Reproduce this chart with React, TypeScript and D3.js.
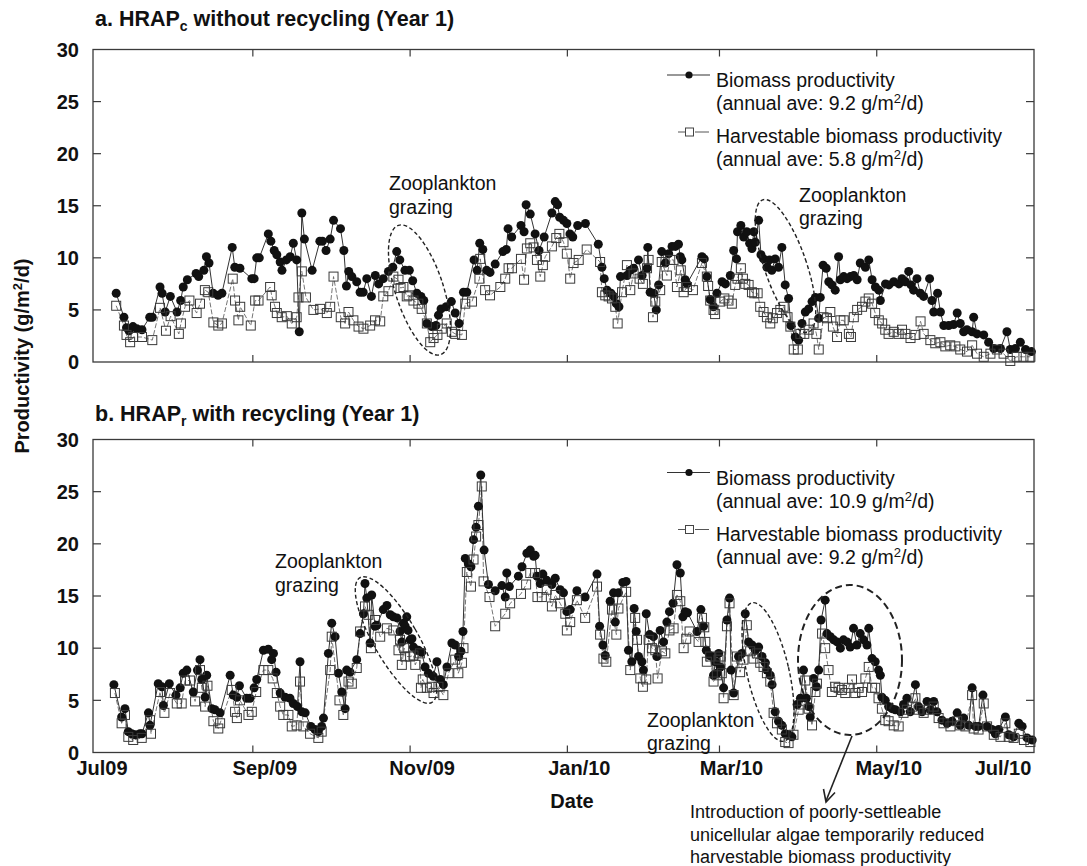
import React from 'react';
import * as d3 from 'd3';

const FONT = "'Liberation Sans', Arial, Helvetica, sans-serif";
const START = new Date(Date.UTC(2009, 6, 1));
const END = new Date(Date.UTC(2010, 6, 1));
const xTickDates = [
  new Date(Date.UTC(2009, 6, 1)), new Date(Date.UTC(2009, 8, 1)), new Date(Date.UTC(2009, 10, 1)),
  new Date(Date.UTC(2010, 0, 1)), new Date(Date.UTC(2010, 2, 1)), new Date(Date.UTC(2010, 4, 1)),
  new Date(Date.UTC(2010, 6, 1)),
];
const xTickLabels = ['Jul09', 'Sep/09', 'Nov/09', 'Jan/10', 'Mar/10', 'May/10', 'Jul/10'];
const yTicks = [0, 5, 10, 15, 20, 25, 30];

type Pt = [number, number]; // [days since 1 Jul 2009, g/m2/d]

const aBiomass: Pt[] = [[9,6.6],[12,4.3],[13,3.3],[14,3.0],[15.5,3.4],[17,3.2],[19,3.1],[22,4.3],[23,4.3],[26,7.2],[26.8,6.6],[28,4.8],[30,6.3],[32.6,4.8],[34,5.9],[35,7.2],[36.6,7.9],[40,8.5],[41,8.2],[43,8.8],[44,10.1],[45,9.5],[46.6,6.6],[48.5,6.4],[50,6.6],[54,11.0],[55,9.1],[57,9.0],[61.6,8.0],[62.5,8.0],[63.5,10.0],[64.5,10.0],[68,12.3],[69,11.6],[70.3,10.7],[71.3,10.3],[72.6,9.6],[73.3,8.8],[75,9.8],[76.5,10.1],[77.7,11.4],[79,9.8],[80,2.9],[81,14.3],[82,11.8],[85,8.8],[88,11.6],[89,11.6],[90.4,10.7],[92,11.8],[93.3,13.6],[96,12.8],[97.3,10.7],[98.3,7.3],[99.2,8.7],[100.4,8.2],[102.3,7.7],[103.6,6.7],[104.8,6.7],[106.2,8.0],[108,6.3],[109.5,8.3],[110.8,7.5],[112.6,8.0],[114.6,8.7],[116.3,9.1],[117.8,10.6],[119,9.8],[121,8.8],[122.7,8.8],[124,7.8],[125.6,6.6],[127.2,6.3],[128.3,5.9],[129.5,3.7],[131.4,3.4],[133,3.5],[134,4.5],[135,5.1],[137,5.3],[139,5.8],[140.5,4.7],[142,3.7],[143.7,6.7],[145,6.7],[147.8,9.8],[149,8.8],[150,11.4],[151.2,10.8],[152.7,8.8],[154,8.6],[156,9.4],[159,10.6],[160.3,10.8],[161,12.8],[162.4,12.0],[166,13.1],[167.2,12.5],[168,15.1],[169.6,14.2],[171.5,12.3],[173,10.7],[175,12.0],[178,14.3],[179.3,15.4],[180.2,15.1],[181,13.9],[182.5,13.6],[183.8,13.3],[185,12.3],[186.1,12.0],[188,13.1],[191,13.3],[196,11.3],[197.4,9.1],[198.3,8.0],[199.4,6.9],[200.9,6.6],[202,6.3],[203,5.6],[204,5.3],[204.6,8.2],[207.1,8.3],[208.4,8.8],[209.7,9.0],[211.6,9.8],[213,8.3],[214.9,9.0],[215.2,11.0],[216.1,6.7],[217.4,6.6],[218.5,5.0],[219.4,7.4],[220.6,10.6],[222,9.5],[223.3,10.4],[224.6,11.1],[225.9,11.1],[227.1,11.3],[227.8,10.1],[228.4,9.8],[229.7,7.9],[230.4,7.5],[236.2,10.1],[237.1,9.9],[238.1,8.2],[239.4,6.0],[240.7,5.3],[242,6.6],[244,7.7],[245.3,7.5],[247.2,8.3],[248.5,10.7],[249.6,9.9],[250,12.5],[251.3,13.1],[252.4,12.0],[253.6,12.5],[254.7,11.4],[255.6,10.9],[256.3,12.5],[256.9,11.5],[258.2,13.6],[259.1,10.3],[260.1,9.9],[261.4,9.1],[262.4,9.8],[263.3,8.8],[264.6,9.9],[265.9,9.1],[267.2,11.0],[268.5,7.4],[269.8,6.1],[270.7,3.5],[272.4,2.4],[273.7,2.1],[275,3.7],[276.3,4.8],[277.6,5.1],[278.9,5.8],[280.2,6.2],[281.5,4.2],[282.1,6.2],[283.2,9.3],[284.4,9.0],[285.4,7.7],[286.6,7.4],[287.9,6.9],[289.2,10.1],[289.9,7.9],[291.2,8.2],[292.5,8.0],[293.8,8.2],[295.1,8.3],[296.4,7.9],[297.6,9.5],[299.6,9.1],[300.9,9.8],[302.2,7.9],[303.5,7.2],[304.8,6.9],[305.4,5.9],[307.4,7.5],[308.7,7.4],[310.6,7.7],[312.6,7.5],[313.8,8.0],[315.1,7.7],[316.4,8.7],[317.3,7.4],[318.3,6.9],[319.6,8.0],[320.9,6.6],[322.2,6.3],[324.5,8.0],[325.4,5.9],[326.1,4.8],[327.6,6.6],[328.7,4.8],[330,3.5],[331.9,3.5],[333.8,3.6],[335.2,4.7],[336.4,3.7],[337.7,2.9],[339,3.1],[341,2.9],[341.6,4.3],[342.9,2.7],[345.5,2.6],[347.4,1.9],[349.4,1.3],[352,1.3],[354.5,2.9],[355.8,1.2],[357.8,1.3],[359.7,1.9],[361.7,1.2],[364,1.0]];

const aHarvest: Pt[] = [[9,5.4],[12,3.5],[13,2.6],[14.4,1.9],[15.6,2.4],[19,2.4],[23,2.1],[26,5.2],[28.3,3.0],[30.1,4.4],[33.3,2.7],[34.1,3.7],[35.7,5.3],[37.4,5.9],[40.2,4.7],[41.5,5.6],[43.4,6.9],[44.7,6.7],[46.7,3.8],[48.6,3.5],[50,3.7],[54.2,8.0],[55.1,5.9],[56.4,4.0],[57.1,5.3],[61.2,3.5],[62.9,5.9],[64.2,5.9],[68.7,7.2],[69.3,6.4],[70.6,5.3],[71.3,4.7],[73.2,4.3],[75.2,4.4],[77.1,3.7],[79,4.3],[79.7,6.2],[81,8.7],[82.6,6.2],[85.5,5.0],[88.1,5.1],[90.7,4.7],[92,5.3],[93.3,8.2],[96.1,4.3],[97.8,3.7],[99.1,4.8],[101,4.0],[103,3.4],[104.9,3.2],[107.5,3.5],[109.4,4.0],[111.4,3.9],[112.6,6.3],[114.6,6.8],[116.5,8.2],[118.5,7.9],[119.3,7.1],[120.4,7.2],[121.7,6.3],[122.4,6.4],[124.3,5.9],[126.2,5.6],[127.5,5.1],[129.5,3.7],[130.8,1.9],[132.1,2.3],[133.6,2.6],[135.3,3.2],[137.2,3.7],[139.2,2.9],[140.5,2.7],[143.1,2.6],[144.4,5.6],[147,5.8],[149.9,8.0],[150.2,9.9],[152.1,6.9],[154,6.4],[158,7.2],[159.9,8.0],[161.2,9.0],[162.5,9.0],[166,9.9],[167.2,7.9],[168.3,10.9],[169.6,11.4],[170.9,11.0],[172.2,9.8],[173.5,8.2],[174.5,9.3],[175.4,10.1],[178,11.1],[179.7,11.9],[180.9,12.3],[182.5,11.5],[183.8,10.4],[185.1,8.0],[186.4,9.5],[188.4,9.8],[191.5,10.8],[196.7,9.6],[197.4,6.7],[198.7,6.4],[200,6.3],[201.3,6.1],[202.6,5.3],[203.5,3.7],[205.2,6.7],[207.1,9.3],[208.4,6.9],[209.7,8.5],[212,8.0],[213.3,7.5],[214.9,9.0],[215.5,9.8],[217.2,4.3],[218.1,5.8],[220,6.9],[220.6,9.6],[222.6,8.3],[223.9,9.8],[225.2,9.8],[226.5,7.2],[228,8.8],[229.1,6.7],[230.4,7.2],[232.7,6.9],[236.2,9.5],[238.1,8.2],[238.6,7.3],[239.4,5.9],[240.7,5.0],[241.3,4.6],[243.3,5.8],[244.9,6.1],[246.5,5.9],[247.8,5.6],[249.1,7.4],[250,8.0],[251.3,9.0],[252.1,8.0],[253,7.5],[254.3,7.4],[255.6,6.7],[256.5,6.6],[257.8,6.6],[258.8,5.3],[260.1,4.8],[261.4,4.3],[262.7,3.7],[263.7,4.2],[265.3,4.7],[266.6,5.0],[267.9,5.3],[269.4,4.3],[270.5,3.4],[271.8,1.2],[273.4,1.2],[274.4,2.7],[275.9,2.7],[277.6,3.1],[279.5,3.7],[280.6,2.7],[281.5,1.2],[283.4,4.3],[284.7,4.2],[286,4.8],[287,3.4],[288.6,2.4],[289.9,4.0],[291.2,4.0],[293.2,2.7],[294,2.4],[295.1,4.3],[296.4,5.0],[298.3,5.3],[299.6,5.8],[300.9,6.1],[302.2,5.6],[303.4,4.7],[304.8,4.0],[306.1,3.7],[307.3,3.1],[308.6,2.7],[310.6,2.9],[312.5,2.7],[313.8,3.1],[315.1,2.7],[317.1,2.3],[319,2.6],[321,3.9],[322.2,2.7],[324.8,2.1],[326.7,1.8],[328.7,1.9],[330.6,1.5],[332.5,1.6],[334.5,1.5],[336.4,1.2],[339,1.0],[341,1.6],[342.9,0.8],[345.5,0.5],[348.1,0.8],[350.7,1.2],[353.2,0.8],[355.8,0.1],[358.3,0.5],[360.9,0.5],[363.6,0.5]];

const bBiomass: Pt[] = [[8.1,6.5],[11.1,3.4],[12.4,4.2],[13.7,2.0],[15,1.8],[16.3,1.7],[18.2,1.8],[19,1.8],[21.5,3.8],[22.1,2.6],[25.3,6.6],[26.7,6.3],[27.3,4.5],[29.6,6.6],[32.2,5.5],[33.8,6.2],[35,7.6],[36.4,7.9],[38.9,5.8],[40.5,7.9],[41.5,8.9],[42.2,7.0],[43.5,5.3],[44.1,7.4],[46.1,4.2],[47.3,4.1],[49.3,3.8],[53.2,7.4],[54.4,5.5],[55.8,5.3],[56.8,6.4],[59.6,5.2],[60.9,5.2],[62.5,6.2],[63.5,7.0],[66.1,9.8],[68,9.9],[69.3,8.9],[70,9.5],[71,7.7],[72.6,5.7],[74.5,5.3],[76.4,5.2],[77.7,4.7],[79.3,4.4],[80.3,8.7],[81,3.9],[82.3,3.8],[84.5,2.5],[86.1,2.2],[87.4,2.0],[88.7,2.5],[89.4,3.3],[91.3,9.5],[92.6,12.4],[93.9,11.1],[95.2,7.6],[96.5,5.8],[97.8,4.2],[98.4,7.9],[99.7,7.7],[102.3,8.9],[103.6,11.4],[104.9,13.3],[105.5,16.2],[106.2,14.8],[107.5,10.5],[108.1,15.1],[109.4,12.1],[110.1,12.2],[112.6,13.7],[114,14.1],[115.3,13.2],[116.5,13.0],[117.9,12.9],[119.1,11.6],[119.8,10.6],[120.4,12.4],[121.1,12.1],[121.7,13.0],[122.2,11.7],[123,10.8],[123.7,10.9],[124.3,10.1],[125.6,9.8],[126.2,9.8],[127.5,9.6],[128.8,8.2],[130.1,7.6],[132,7.3],[133.4,8.7],[134.7,7.0],[135.9,6.5],[137.3,8.2],[139.2,10.5],[140.5,10.3],[141.8,9.2],[142.7,9.7],[143.5,11.6],[144.4,18.6],[145.6,18.1],[146.6,17.8],[147.6,20.4],[148.6,21.6],[149.5,23.6],[150.4,26.6],[151.7,19.4],[153.4,16.1],[156,15.5],[158.6,16.0],[159.9,14.9],[160.5,17.2],[161.5,15.9],[165,16.9],[166.4,17.8],[168.3,19.1],[169.6,19.4],[170.9,18.8],[171.5,18.9],[172.2,16.9],[173.5,16.2],[174.5,17.1],[176,16.5],[178,16.1],[179.3,16.7],[181.2,15.6],[182.5,15.3],[183.8,13.5],[185.1,13.7],[187.7,15.5],[190.9,14.9],[195.5,17.1],[196.5,12.1],[197.8,10.3],[198.7,9.3],[200.6,14.5],[201.9,15.3],[202.6,12.5],[203.8,15.3],[205.5,16.3],[206.8,16.4],[207.7,9.8],[209,8.7],[209.9,13.8],[210.7,11.6],[211.6,9.2],[212.9,8.7],[213.5,7.9],[214.6,13.3],[215.9,11.3],[217.4,11.1],[218.7,9.2],[220,11.7],[221.3,10.6],[222.6,12.5],[223.6,13.5],[225,14.3],[226.5,18.0],[227.8,17.2],[228.8,13.0],[229.7,13.5],[230.6,13.4],[234.3,11.6],[235.8,13.7],[236.8,12.1],[237.9,9.8],[239.2,9.3],[240.1,9.2],[240.7,7.4],[241.4,8.7],[242.1,7.6],[242.7,9.5],[243.3,8.2],[244.6,6.2],[245.9,12.7],[246.9,14.8],[247.5,7.9],[248.5,5.7],[250.4,9.2],[251.7,9.5],[253,13.3],[254.3,10.6],[255.6,10.3],[256.9,9.8],[258.2,10.1],[259.5,9.2],[260.8,8.6],[261.4,7.9],[262.7,7.4],[263.4,6.5],[264.6,3.9],[265.9,3.0],[267.2,2.6],[268.5,1.8],[269.8,1.7],[271.1,1.5],[273.1,4.6],[274.4,5.2],[275.6,7.9],[276.7,5.2],[277.6,4.4],[278.2,3.4],[279.5,7.1],[280.6,6.3],[281.5,7.9],[282.4,12.7],[284,14.6],[284.7,11.4],[286,11.1],[287.3,10.8],[288.6,10.6],[289.9,10.0],[291.1,10.8],[292.5,10.6],[293.7,10.1],[295,11.9],[296.3,10.3],[297.6,11.4],[298.9,10.8],[300.2,10.3],[300.9,11.9],[302.2,9.0],[303.4,8.7],[304.7,7.9],[305.4,7.4],[306,5.3],[307.3,5.0],[308.6,4.4],[309.9,4.2],[311.2,4.1],[313.2,3.9],[314.4,4.6],[315.7,5.2],[317,3.9],[319,6.5],[320.2,4.4],[321.6,3.9],[323.5,4.9],[324.8,4.1],[326.1,4.9],[327.4,3.9],[329.3,3.1],[331.3,2.8],[333.2,3.0],[335.2,3.8],[336.4,2.6],[337.7,3.3],[339.7,2.6],[341,6.2],[342.3,2.5],[343.5,2.5],[345.2,5.5],[346.8,2.5],[348.7,2.2],[350,1.8],[351.3,2.2],[353.9,3.4],[355.2,1.7],[357.1,1.5],[359.1,2.8],[360.4,2.5],[362.3,1.4],[364.3,1.2]];

const bHarvest: Pt[] = [[8.5,5.7],[11.1,2.8],[12.4,3.6],[13.7,1.5],[15.6,1.2],[18.9,1.4],[22.1,3.1],[22.5,1.8],[26,5.8],[27.7,3.8],[29.9,5.7],[32.5,4.7],[34.4,4.7],[35.7,6.9],[37.6,6.9],[39.6,4.9],[41.5,7.9],[42.2,6.2],[43.5,4.4],[44.4,6.4],[46.7,3.0],[48.6,2.3],[49.3,2.8],[53.8,6.0],[55.1,3.9],[55.8,3.3],[57,5.0],[60.3,3.6],[61.6,3.9],[63.3,5.8],[66.1,7.9],[68,7.9],[69.7,7.1],[71.3,5.7],[72.6,4.4],[73.8,3.6],[75.8,3.6],[77.1,2.5],[79,2.6],[80.3,6.8],[81.6,2.5],[84.2,1.8],[87.4,1.4],[88.7,2.0],[92,7.9],[92.6,11.1],[95.6,5.0],[97.1,3.6],[99.1,6.8],[100.4,6.6],[102.3,8.1],[103.6,11.6],[105.5,14.0],[106.8,13.2],[107.8,10.0],[109.4,12.7],[111.4,11.1],[114,11.9],[116.5,11.7],[118.5,9.8],[119.1,10.8],[119.8,8.4],[120.7,10.0],[121.1,9.2],[123,9.2],[124.3,9.3],[125,8.4],[126.8,9.5],[127.2,6.2],[127.9,7.0],[129.5,6.2],[131.4,6.3],[132.1,5.7],[134,6.3],[135.9,5.5],[137.9,7.6],[140.5,8.9],[141.7,7.6],[143.1,8.6],[143.7,10.0],[145,17.3],[146.6,15.9],[147.6,18.5],[148.6,20.7],[149.5,21.8],[150.8,25.5],[151.5,16.4],[153.8,14.9],[156,12.1],[159.9,13.3],[161.8,14.3],[166,15.2],[168,16.1],[169.6,17.2],[171.5,17.2],[172.4,14.9],[174.1,14.9],[176,15.6],[178,14.0],[179.3,15.1],[181.2,14.3],[183.2,13.3],[183.8,11.7],[185.1,12.5],[187.7,14.6],[190.9,12.9],[195.5,15.9],[196.7,11.3],[198,9.0],[199.1,8.7],[201.3,13.7],[203,11.3],[203.8,13.8],[206.8,15.4],[208.4,7.9],[210.3,12.9],[211,10.8],[212.3,7.1],[213.3,6.3],[214.6,7.0],[215.5,10.8],[216.8,10.0],[218.1,9.8],[219,7.1],[220.7,9.7],[222,9.5],[223.6,11.7],[225.2,11.9],[226.5,15.1],[227.8,14.5],[229.1,10.0],[230.1,10.9],[231.4,11.6],[234.9,10.6],[236.2,12.9],[237.1,12.0],[237.5,10.6],[238.1,8.7],[239.4,9.2],[240.7,6.8],[242,7.4],[242.6,8.9],[243.3,9.2],[243.9,7.6],[244.6,5.2],[245.9,12.1],[246.9,14.3],[248.5,5.5],[249.8,9.2],[251,7.7],[252.3,8.9],[253.6,12.2],[254.9,9.7],[256.2,9.0],[257.5,9.5],[258.8,8.6],[260.1,8.2],[261.4,7.6],[262.7,6.8],[264,3.8],[265.3,2.8],[267.2,2.2],[268.5,1.0],[269.8,0.9],[271.7,1.7],[273.7,4.1],[275,4.6],[276.3,6.9],[277.6,4.2],[278.9,2.6],[280.2,5.8],[280.8,6.6],[282.8,11.4],[284,10.0],[285.3,7.9],[286.6,5.8],[287.9,6.3],[289.2,6.2],[290.5,6.0],[291.8,5.7],[293.1,6.2],[294.4,7.0],[295.7,5.7],[297,6.2],[298.3,5.8],[299.6,7.1],[300.9,8.2],[302.2,6.2],[303.4,6.2],[304.7,5.2],[306,4.2],[307.3,3.1],[308.6,3.0],[310.6,2.6],[312.5,2.5],[314.4,3.8],[315.7,4.1],[317.7,4.4],[319,5.2],[320.2,4.1],[322.2,3.8],[324.1,4.1],[326.1,4.4],[328,3.3],[329.9,2.8],[332.6,2.5],[335.2,3.0],[336.4,2.6],[338.4,2.5],[341,5.5],[341.6,2.3],[343.5,2.2],[345.5,4.7],[346.8,2.5],[349.4,1.7],[352,1.5],[353.9,2.8],[355.2,1.5],[357.1,1.4],[359.1,1.8],[361.1,1.2],[363.6,1.0]];

const aAverages = ['9.2', '5.8'];
const bAverages = ['10.9', '9.2'];

const toDate = (d: number) => new Date(START.getTime() + d * 86400000);
const LEFT = 93;
const RIGHT = 1034;
const AXIS = '#3a3a3a';
const INK = '#111';

function Unit({ ave }: { ave: string }) {
  return (
    <>
      {`(annual  ave: ${ave} g/m`}
      <tspan fontSize={13} dy={-7}>2</tspan>
      <tspan dy={7}>/d)</tspan>
    </>
  );
}

function Legend({ y0, avg }: { y0: number; avg: string[] }) {
  const tx = 716;
  return (
    <g fontFamily={FONT} fontSize={19.5} fill={INK}>
      <line x1={667} x2={710} y1={y0} y2={y0} stroke="#333" strokeWidth={1.1} />
      <circle cx={689} cy={y0} r={3.6} fill={INK} />
      <text x={tx} y={y0 + 12}>Biomass productivity</text>
      <text x={tx} y={y0 + 35}><Unit ave={avg[0]} /></text>
      <line x1={678} x2={685} y1={y0 + 57} y2={y0 + 57} stroke="#555" strokeWidth={1} />
      <line x1={695} x2={709} y1={y0 + 57} y2={y0 + 57} stroke="#555" strokeWidth={1} />
      <rect x={685.5} y={y0 + 53} width={8} height={8} fill="none" stroke="#444" strokeWidth={1} />
      <text x={tx} y={y0 + 68}>Harvestable biomass productivity</text>
      <text x={tx} y={y0 + 91}><Unit ave={avg[1]} /></text>
    </g>
  );
}

function Panel({ top, bottom, bio, harv, showXLabels }: { top: number; bottom: number; bio: Pt[]; harv: Pt[]; showXLabels: boolean }) {
  const x = d3.scaleUtc().domain([START, END]).range([LEFT, RIGHT]);
  const y = d3.scaleLinear().domain([0, 30]).range([bottom, top]);
  const line = d3.line<Pt>().x(d => x(toDate(d[0]))).y(d => y(d[1]));
  const inner = xTickDates.slice(1, -1);
  return (
    <g>
      <path d={line(harv) || ''} fill="none" stroke="#666" strokeWidth={0.9} strokeDasharray="5,2" />
      <path d={line(bio) || ''} fill="none" stroke="#333" strokeWidth={1} />
      {bio.map((d, i) => (
        <circle key={'b' + i} cx={x(toDate(d[0]))} cy={y(d[1])} r={4.5} fill={INK} />
      ))}
      {harv.map((d, i) => (
        <rect key={'h' + i} x={x(toDate(d[0])) - 4.5} y={y(d[1]) - 4.5} width={9} height={9} fill="none" stroke="#3a3a3a" strokeWidth={1} />
      ))}
      <rect x={LEFT} y={top} width={RIGHT - LEFT} height={bottom - top} fill="none" stroke={AXIS} strokeWidth={1.3} />
      {yTicks.slice(1, -1).map(v => (
        <g key={'yt' + v}>
          <line x1={LEFT} x2={LEFT + 8} y1={y(v)} y2={y(v)} stroke={AXIS} strokeWidth={1.2} />
          <line x1={RIGHT} x2={RIGHT - 8} y1={y(v)} y2={y(v)} stroke={AXIS} strokeWidth={1.2} />
        </g>
      ))}
      {inner.map((d, i) => (
        <g key={'xt' + i}>
          <line x1={x(d)} x2={x(d)} y1={top} y2={top + 7} stroke={AXIS} strokeWidth={1.2} />
          <line x1={x(d)} x2={x(d)} y1={bottom} y2={bottom - 7} stroke={AXIS} strokeWidth={1.2} />
        </g>
      ))}
      <g fontFamily={FONT} fontSize={20} fontWeight="bold" fill={INK}>
        {yTicks.map(v => (
          <text key={'yl' + v} x={79} y={y(v)} dy="0.36em" textAnchor="end">{v}</text>
        ))}
        {showXLabels && xTickDates.map((d, i) => (
          <text key={'xl' + i} x={i === xTickDates.length - 1 ? x(d) - 31 : x(d) + (i === 0 ? 9 : 12)} y={bottom + 22.5} textAnchor="middle">{xTickLabels[i]}</text>
        ))}
      </g>
    </g>
  );
}

function Note({ x, y, lines, size = 19.5, gap = 23.5 }: { x: number; y: number; lines: string[]; size?: number; gap?: number }) {
  return (
    <text x={x} y={y} fontFamily={FONT} fontSize={size} fill={INK}>
      {lines.map((l, i) => (
        <tspan key={i} x={x} dy={i === 0 ? 0 : gap}>{l}</tspan>
      ))}
    </text>
  );
}

export default function App() {
  const dash = { fill: 'none', stroke: '#222', strokeWidth: 1.4, strokeDasharray: '4,2.5' };
  return (
    <svg width={1087} height={866} style={{ position: 'absolute', left: 0, top: 0, background: '#fff' }}>
      <rect width={1087} height={866} fill="#fff" />
      <g fontFamily={FONT} fontWeight="bold" fontSize={21.5} fill={INK}>
        <text x={95} y={26}>a. HRAP<tspan fontSize={14} dy={5}>c</tspan><tspan dy={-5}>{'  without recycling (Year 1)'}</tspan></text>
        <text x={95} y={421}>b. HRAP<tspan fontSize={14} dy={5}>r</tspan><tspan dy={-5}>{'  with recycling (Year 1)'}</tspan></text>
      </g>
      <Panel top={49.5} bottom={362} bio={aBiomass} harv={aHarvest} showXLabels={false} />
      <Panel top={439.5} bottom={752.5} bio={bBiomass} harv={bHarvest} showXLabels={true} />
      <Legend y0={75} avg={aAverages} />
      <Legend y0={472.5} avg={bAverages} />

      <text transform="translate(29,356) rotate(-90)" textAnchor="middle" fontFamily={FONT} fontWeight="bold" fontSize={20} fill={INK}>
        Productivity (g/m<tspan fontSize={13} dy={-7}>2</tspan><tspan dy={7}>/d)</tspan>
      </text>
      <text x={572} y={808} textAnchor="middle" fontFamily={FONT} fontWeight="bold" fontSize={20} fill={INK}>Date</text>

      <Note x={389} y={190} lines={['Zooplankton', 'grazing']} />
      <Note x={799} y={201.5} lines={['Zooplankton', 'grazing']} />
      <Note x={275} y={568} lines={['Zooplankton', 'grazing']} />
      <Note x={647} y={726.5} lines={['Zooplankton', 'grazing']} />
      <Note x={690} y={818} lines={['Introduction of poorly-settleable', 'unicellular algae temporarily reduced', 'harvestable biomass productivity']} size={18} gap={22.5} />

      <ellipse cx={419.5} cy={290} rx={24} ry={68} transform="rotate(-18 419.5 290)" {...dash} />
      <ellipse cx={785.5} cy={266} rx={21} ry={70} transform="rotate(-19 785.5 266)" {...dash} />
      <ellipse cx={396} cy={640} rx={22} ry={72} transform="rotate(-30 396 640)" {...dash} />
      <ellipse cx={768} cy={672} rx={21} ry={71} transform="rotate(-13 768 672)" {...dash} />
      <ellipse cx={850} cy={660} rx={52} ry={75} fill="none" stroke="#222" strokeWidth={2} strokeDasharray="7,4" />

      <line x1={852} y1={736} x2={826} y2={801} stroke="#222" strokeWidth={1.6} />
      <path d="M 823.5 789 L 826 802 L 835 792.5" fill="none" stroke="#222" strokeWidth={1.6} />
    </svg>
  );
}
